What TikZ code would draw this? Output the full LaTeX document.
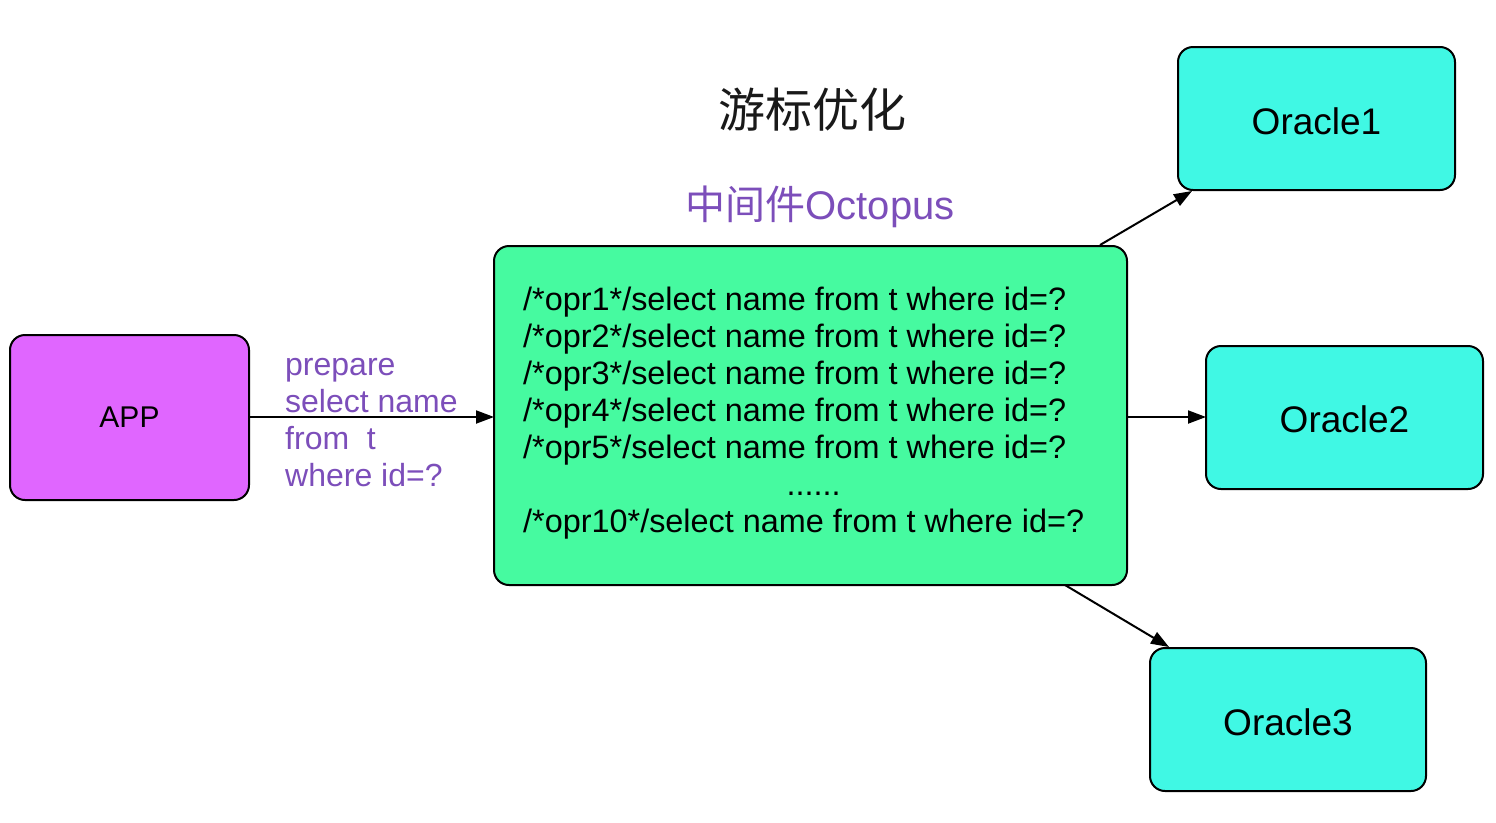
\documentclass[tikz,border=0pt]{standalone}
\usepackage{fontspec}
\setmainfont{Liberation Sans}
\newfontfamily\cjk{Noto Sans CJK SC}
\usetikzlibrary{arrows.meta}
\definecolor{appfill}{RGB}{224,102,255}
\definecolor{midfill}{RGB}{70,250,160}
\definecolor{orafill}{RGB}{64,248,228}
\definecolor{lblpurple}{RGB}{124,78,186}
\begin{document}
\begin{tikzpicture}[x=1pt,y=-1pt,
  box/.style={draw=black,line width=2pt,rounded corners=15pt},
  conn/.style={draw=black,line width=2pt,-{Triangle[length=18pt,width=13pt]}},
  big/.style={font=\fontsize{37}{44}\selectfont}
]
\useasboundingbox (0,0) rectangle (1496,822);
% boxes
\draw[box,fill=appfill] (10,335) rectangle (249,500);
\node[big,font=\fontsize{30}{36}\selectfont] (app) at (129.5,417.5) {APP};
\coordinate (appR) at (249,417);
\draw[box,fill=midfill] (494,246) rectangle (1127,585);
\coordinate (midL) at (494,417);
\coordinate (midR) at (1127,417);
\coordinate (midT) at (1100,245);
\coordinate (midB) at (1065,585);
\draw[box,fill=orafill] (1178,47) rectangle (1455,190);
\node[big] (o1) at (1316.5,121) {Oracle1};
\coordinate (o1c) at (1192,191);
\draw[box,fill=orafill] (1206,346) rectangle (1483,489);
\node[big] (o2) at (1344.5,419) {Oracle2};
\coordinate (o2L) at (1206,417);
\draw[box,fill=orafill] (1150,648) rectangle (1426,791);
\node[big] (o3) at (1288,722) {Oracle3};
\coordinate (o3c) at (1169,647);
% titles
\node[font=\cjk\fontsize{47}{52}\selectfont,text=black!90] (title) at (812,110) {游标优化};
\node[font=\fontsize{40}{46}\selectfont,text=lblpurple] (sub) at (820,207) {{\cjk 中间件}Octopus};
% code text
\node[anchor=north west,inner sep=0pt,font=\fontsize{32.4}{37}\selectfont] (code) at (523,284) {%
\begin{tabular}{@{}l@{}}
/*opr1*/select name from t where id=?\\
/*opr2*/select name from t where id=?\\
/*opr3*/select name from t where id=?\\
/*opr4*/select name from t where id=?\\
/*opr5*/select name from t where id=?\\
\multicolumn{1}{@{}c@{}}{\hspace{20pt}......}\\
/*opr10*/select name from t where id=?
\end{tabular}};
% label
\node[anchor=north west,inner sep=0pt,text=lblpurple,font=\fontsize{32}{37}\selectfont] (lbl) at (285,349) {%
\begin{tabular}{@{}l@{}}
prepare\\
select name\\
from\ \ t\\
where id=?
\end{tabular}};
% connectors
\draw[conn] (appR) -- (midL);
\draw[conn] (midR) -- (o2L);
\draw[conn] (midT) -- (o1c);
\draw[conn] (midB) -- (o3c);
\end{tikzpicture}
\end{document}
